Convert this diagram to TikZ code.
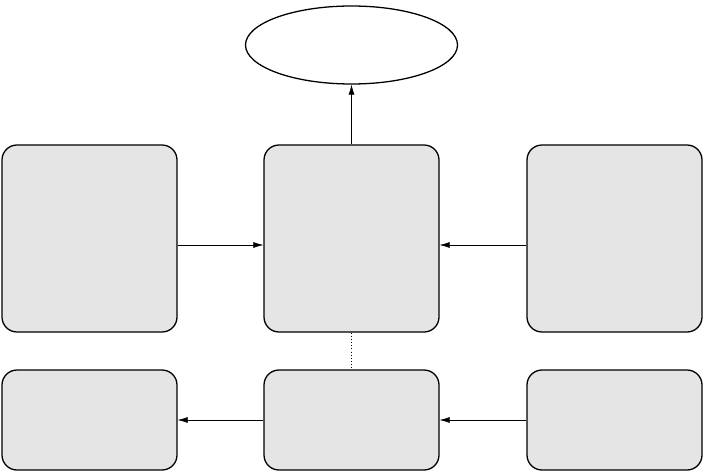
\documentclass[tikz,border=0pt]{standalone}
\usetikzlibrary{arrows.meta,shapes.geometric}
\tikzset{
  block/.style={draw,line width=1.1pt,fill=black!10,rounded corners=4.5mm,minimum width=52.5mm,inner sep=0pt},
  goal/.style={draw,ellipse,line width=1.1pt,minimum width=63.6mm,minimum height=23.4mm,inner sep=0pt},
  link/.style={line width=0.5pt,-{Latex[length=3mm,width=1.8mm]}}
}
\begin{document}
\begin{tikzpicture}[x=0.3mm,y=-0.3mm]
      \useasboundingbox (0,0) rectangle (704,472);
      \node[goal] (E) at (351.5,45) {};
      \node[block,minimum height=56.1mm] (L) at (89.5,238.5) {};
      \node[block,minimum height=56.1mm] (C) at (351.5,238.5) {};
      \node[block,minimum height=56.1mm] (R) at (614.5,238.5) {};
      \node[block,minimum height=30mm] (LB) at (89.5,420) {};
      \node[block,minimum height=30mm] (CB) at (351.5,420) {};
      \node[block,minimum height=30mm] (RB) at (614.5,420) {};
      \draw[link] ([yshift=-1.95mm]L.east) -- ([yshift=-1.95mm]C.west);
      \draw[link] ([yshift=-1.95mm]R.west) -- ([yshift=-1.95mm]C.east);
      \draw[link] (C.north) -- (E.south);
      \draw[line width=0.7pt,dotted] (C.south) -- (CB.north);
      \draw[link] (CB.west) -- (LB.east);
      \draw[link] (RB.west) -- (CB.east);
    \end{tikzpicture}
\end{document}
